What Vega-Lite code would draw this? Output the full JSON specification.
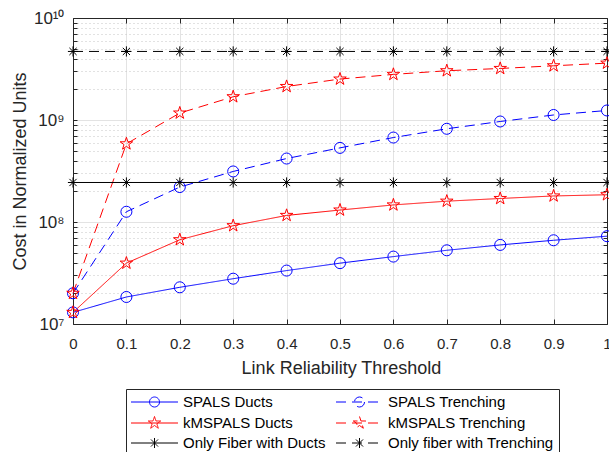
{
  "$schema": "https://vega.github.io/schema/vega-lite/v6.json",
  "width": 534,
  "height": 306,
  "autosize": "none",
  "padding": {"left": 73, "top": 18, "right": 2, "bottom": 128},
  "background": "white",
  "config": {
    "view": {"stroke": null},
    "font": "Liberation Sans",
    "axis": {
      "domainColor": "#262626",
      "tickColor": "#262626",
      "labelColor": "#262626",
      "titleColor": "#262626",
      "labelFont": "Liberation Sans",
      "titleFont": "Liberation Sans",
      "titleFontWeight": "normal",
      "labelFontSize": 15,
      "titleFontSize": 18,
      "domainWidth": 1,
      "tickWidth": 1
    }
  },
  "resolve": {"legend": {"color": "independent", "shape": "independent", "strokeDash": "independent"}},
  "data": {
    "values": [
      {"series": "SPALS Ducts", "threshold": 0, "cost": 1.30e7},
      {"series": "SPALS Ducts", "threshold": 0.1, "cost": 1.84e7},
      {"series": "SPALS Ducts", "threshold": 0.2, "cost": 2.29e7},
      {"series": "SPALS Ducts", "threshold": 0.3, "cost": 2.78e7},
      {"series": "SPALS Ducts", "threshold": 0.4, "cost": 3.34e7},
      {"series": "SPALS Ducts", "threshold": 0.5, "cost": 3.95e7},
      {"series": "SPALS Ducts", "threshold": 0.6, "cost": 4.58e7},
      {"series": "SPALS Ducts", "threshold": 0.7, "cost": 5.28e7},
      {"series": "SPALS Ducts", "threshold": 0.8, "cost": 5.96e7},
      {"series": "SPALS Ducts", "threshold": 0.9, "cost": 6.62e7},
      {"series": "SPALS Ducts", "threshold": 1, "cost": 7.26e7},
      {"series": "SPALS Trenching", "threshold": 0, "cost": 2.0e7},
      {"series": "SPALS Trenching", "threshold": 0.1, "cost": 1.26e8},
      {"series": "SPALS Trenching", "threshold": 0.2, "cost": 2.2e8},
      {"series": "SPALS Trenching", "threshold": 0.3, "cost": 3.13e8},
      {"series": "SPALS Trenching", "threshold": 0.4, "cost": 4.19e8},
      {"series": "SPALS Trenching", "threshold": 0.5, "cost": 5.33e8},
      {"series": "SPALS Trenching", "threshold": 0.6, "cost": 6.73e8},
      {"series": "SPALS Trenching", "threshold": 0.7, "cost": 8.2e8},
      {"series": "SPALS Trenching", "threshold": 0.8, "cost": 9.67e8},
      {"series": "SPALS Trenching", "threshold": 0.9, "cost": 1.12e9},
      {"series": "SPALS Trenching", "threshold": 1, "cost": 1.24e9},
      {"series": "kMSPALS Ducts", "threshold": 0, "cost": 1.30e7},
      {"series": "kMSPALS Ducts", "threshold": 0.1, "cost": 3.95e7},
      {"series": "kMSPALS Ducts", "threshold": 0.2, "cost": 6.7e7},
      {"series": "kMSPALS Ducts", "threshold": 0.3, "cost": 9.2e7},
      {"series": "kMSPALS Ducts", "threshold": 0.4, "cost": 1.16e8},
      {"series": "kMSPALS Ducts", "threshold": 0.5, "cost": 1.31e8},
      {"series": "kMSPALS Ducts", "threshold": 0.6, "cost": 1.47e8},
      {"series": "kMSPALS Ducts", "threshold": 0.7, "cost": 1.6e8},
      {"series": "kMSPALS Ducts", "threshold": 0.8, "cost": 1.7e8},
      {"series": "kMSPALS Ducts", "threshold": 0.9, "cost": 1.8e8},
      {"series": "kMSPALS Ducts", "threshold": 1, "cost": 1.85e8},
      {"series": "kMSPALS Trenching", "threshold": 0, "cost": 2.0e7},
      {"series": "kMSPALS Trenching", "threshold": 0.1, "cost": 5.84e8},
      {"series": "kMSPALS Trenching", "threshold": 0.2, "cost": 1.17e9},
      {"series": "kMSPALS Trenching", "threshold": 0.3, "cost": 1.69e9},
      {"series": "kMSPALS Trenching", "threshold": 0.4, "cost": 2.13e9},
      {"series": "kMSPALS Trenching", "threshold": 0.5, "cost": 2.52e9},
      {"series": "kMSPALS Trenching", "threshold": 0.6, "cost": 2.8e9},
      {"series": "kMSPALS Trenching", "threshold": 0.7, "cost": 3.04e9},
      {"series": "kMSPALS Trenching", "threshold": 0.8, "cost": 3.2e9},
      {"series": "kMSPALS Trenching", "threshold": 0.9, "cost": 3.4e9},
      {"series": "kMSPALS Trenching", "threshold": 1, "cost": 3.61e9},
      {"series": "Only Fiber with Ducts", "threshold": 0, "cost": 2.44e8},
      {"series": "Only Fiber with Ducts", "threshold": 0.1, "cost": 2.44e8},
      {"series": "Only Fiber with Ducts", "threshold": 0.2, "cost": 2.44e8},
      {"series": "Only Fiber with Ducts", "threshold": 0.3, "cost": 2.44e8},
      {"series": "Only Fiber with Ducts", "threshold": 0.4, "cost": 2.44e8},
      {"series": "Only Fiber with Ducts", "threshold": 0.5, "cost": 2.44e8},
      {"series": "Only Fiber with Ducts", "threshold": 0.6, "cost": 2.44e8},
      {"series": "Only Fiber with Ducts", "threshold": 0.7, "cost": 2.44e8},
      {"series": "Only Fiber with Ducts", "threshold": 0.8, "cost": 2.44e8},
      {"series": "Only Fiber with Ducts", "threshold": 0.9, "cost": 2.44e8},
      {"series": "Only Fiber with Ducts", "threshold": 1, "cost": 2.44e8},
      {"series": "Only fiber with Trenching", "threshold": 0, "cost": 4.7e9},
      {"series": "Only fiber with Trenching", "threshold": 0.1, "cost": 4.7e9},
      {"series": "Only fiber with Trenching", "threshold": 0.2, "cost": 4.7e9},
      {"series": "Only fiber with Trenching", "threshold": 0.3, "cost": 4.7e9},
      {"series": "Only fiber with Trenching", "threshold": 0.4, "cost": 4.7e9},
      {"series": "Only fiber with Trenching", "threshold": 0.5, "cost": 4.7e9},
      {"series": "Only fiber with Trenching", "threshold": 0.6, "cost": 4.7e9},
      {"series": "Only fiber with Trenching", "threshold": 0.7, "cost": 4.7e9},
      {"series": "Only fiber with Trenching", "threshold": 0.8, "cost": 4.7e9},
      {"series": "Only fiber with Trenching", "threshold": 0.9, "cost": 4.7e9},
      {"series": "Only fiber with Trenching", "threshold": 1, "cost": 4.7e9}
    ]
  },
  "layer": [
    {
      "mark": {"type": "line", "strokeWidth": 1},
      "encoding": {
        "x": {
          "field": "threshold", "type": "quantitative",
          "scale": {"domain": [0, 1], "nice": false, "zero": false},
          "axis": {
            "orient": "bottom",
            "values": [0, 0.1, 0.2, 0.3, 0.4, 0.5, 0.6, 0.7, 0.8, 0.9, 1],
            "format": "~g",
            "tickSize": -5,
            "labelPadding": 29,
            "labelBaseline": "alphabetic",
            "labelFlush": false,
            "title": "Link Reliability Threshold",
            "titleX": 268,
            "titleY": 49,
            "titleBaseline": "alphabetic",
            "titleAlign": "center",
            "grid": true,
            "gridColor": "#e3e3e3",
            "gridOpacity": {"condition": {"test": "datum.value <= 0.001 || datum.value >= 0.999", "value": 0}, "value": 1}
          }
        },
        "y": {
          "field": "cost", "type": "quantitative",
          "scale": {"type": "log", "domain": [1e7, 1e10], "nice": false},
          "axis": {
            "orient": "left",
            "values": [1e7, 2e7, 3e7, 4e7, 5e7, 6e7, 7e7, 8e7, 9e7, 1e8, 2e8, 3e8, 4e8, 5e8, 6e8, 7e8, 8e8, 9e8, 1e9, 2e9, 3e9, 4e9, 5e9, 6e9, 7e9, 8e9, 9e9, 1e10],
            "labelExpr": "datum.value == 1e7 ? '10⁷' : datum.value == 1e8 ? '10⁸' : datum.value == 1e9 ? '10⁹' : datum.value == 1e10 ? '10¹⁰' : ''",
            "tickSize": -4,
            "labelPadding": 13,
            "labelFontSize": 17,
            "title": "Cost in Normalized Units",
            "titleX": -48,
            "titleY": 153,
            "titleAngle": -90,
            "titleBaseline": "alphabetic",
            "titleAlign": "center",
            "grid": true,
            "gridColor": {"condition": {"test": "abs(log(datum.value)/LN10 - round(log(datum.value)/LN10)) < 0.001", "value": "#e3e3e3"}, "value": "#c4c4c4"},
            "gridDash": {"condition": {"test": "abs(log(datum.value)/LN10 - round(log(datum.value)/LN10)) < 0.001", "value": []}, "value": [1, 3]},
            "gridOpacity": {"condition": {"test": "datum.value <= 1.01e7 || datum.value >= 0.99e10", "value": 0}, "value": 1}
          }
        },
        "color": {
          "field": "series", "type": "nominal",
          "scale": {
            "domain": ["SPALS Ducts", "SPALS Trenching", "kMSPALS Ducts", "kMSPALS Trenching", "Only Fiber with Ducts", "Only fiber with Trenching"],
            "range": ["#0000ff", "#0000ff", "#ff0000", "#ff0000", "#000000", "#000000"]
          },
          "legend": {
            "orient": "none",
            "legendX": 53,
            "legendY": 371,
            "columns": 2,
            "direction": "horizontal",
            "title": null,
            "fillColor": "white",
            "strokeColor": "#262626",
            "padding": 5,
            "rowPadding": 4,
            "columnPadding": 8,
            "labelFontSize": 15,
            "labelFont": "Liberation Sans",
            "labelColor": "#000000",
            "labelLimit": 0,
            "symbolSize": 225,
            "symbolOffset": 15.5,
            "labelOffset": 20.5,
            "symbolStrokeWidth": 1,
            "symbolFillColor": "transparent",
            "symbolType": "circle",
            "encode": {
              "symbols": {
                "update": {
                  "shape": {"signal": "indexof(datum.value, 'kMSPALS') == 0 ? 'M-3.133,0H3.133M0,-0.867L0.195,-0.268L0.825,-0.268L0.315,0.102L0.51,0.701L0,0.331L-0.51,0.701L-0.315,0.102L-0.825,-0.268L-0.195,-0.268Z' : indexof(datum.value, 'SPALS') == 0 ? 'M-3.133,0H3.133M0.667,0A0.667,0.667 0 1 1 -0.667,0A0.667,0.667 0 1 1 0.667,0' : 'M-3.133,0H3.133M0,-0.667V0.667M-0.47,-0.47L0.47,0.47M-0.47,0.47L0.47,-0.47'"},
                  "strokeDash": {"signal": "indexof(datum.value, 'Trenching') > 0 ? [10, 6] : [1, 0]"},
                  "fill": {"value": "transparent"}
                }
              }
            }
          }
        },
        "strokeDash": {
          "field": "series", "type": "nominal",
          "legend": null,
          "scale": {
            "domain": ["SPALS Ducts", "SPALS Trenching", "kMSPALS Ducts", "kMSPALS Trenching", "Only Fiber with Ducts", "Only fiber with Trenching"],
            "range": [[1, 0], [10, 6], [1, 0], [10, 6], [1, 0], [10, 6]]
          }
        }
      }
    },
    {
      "mark": {"type": "point", "filled": false, "strokeWidth": 1, "size": 144, "opacity": 1},
      "encoding": {
        "x": {
          "field": "threshold", "type": "quantitative",
          "axis": {
            "orient": "top",
            "values": [0, 0.1, 0.2, 0.3, 0.4, 0.5, 0.6, 0.7, 0.8, 0.9, 1],
            "labels": false,
            "tickSize": -5,
            "grid": false,
            "title": null
          }
        },
        "y": {
          "field": "cost", "type": "quantitative",
          "axis": {
            "orient": "right",
            "values": [1e7, 2e7, 3e7, 4e7, 5e7, 6e7, 7e7, 8e7, 9e7, 1e8, 2e8, 3e8, 4e8, 5e8, 6e8, 7e8, 8e8, 9e8, 1e9, 2e9, 3e9, 4e9, 5e9, 6e9, 7e9, 8e9, 9e9, 1e10],
            "labels": false,
            "tickSize": -4,
            "grid": false,
            "title": null
          }
        },
        "color": {"field": "series", "type": "nominal", "legend": null},
        "shape": {
          "field": "series", "type": "nominal", "legend": null,
          "scale": {
            "domain": ["SPALS Ducts", "SPALS Trenching", "kMSPALS Ducts", "kMSPALS Trenching", "Only Fiber with Ducts", "Only fiber with Trenching"],
            "range": [
              "M0.92,0A0.92,0.92 0 1 1 -0.92,0A0.92,0.92 0 1 1 0.92,0Z",
              "M0.92,0A0.92,0.92 0 1 1 -0.92,0A0.92,0.92 0 1 1 0.92,0Z",
              "M0,-1.1L0.247,-0.34L1.046,-0.34L0.399,0.13L0.647,0.89L0,0.42L-0.647,0.89L-0.399,0.13L-1.046,-0.34L-0.247,-0.34Z",
              "M0,-1.1L0.247,-0.34L1.046,-0.34L0.399,0.13L0.647,0.89L0,0.42L-0.647,0.89L-0.399,0.13L-1.046,-0.34L-0.247,-0.34Z",
              "M-0.85,0H0.85M0,-0.85V0.85M-0.6,-0.6L0.6,0.6M-0.6,0.6L0.6,-0.6",
              "M-0.85,0H0.85M0,-0.85V0.85M-0.6,-0.6L0.6,0.6M-0.6,0.6L0.6,-0.6"
            ]
          }
        }
      }
    }
  ]
}
